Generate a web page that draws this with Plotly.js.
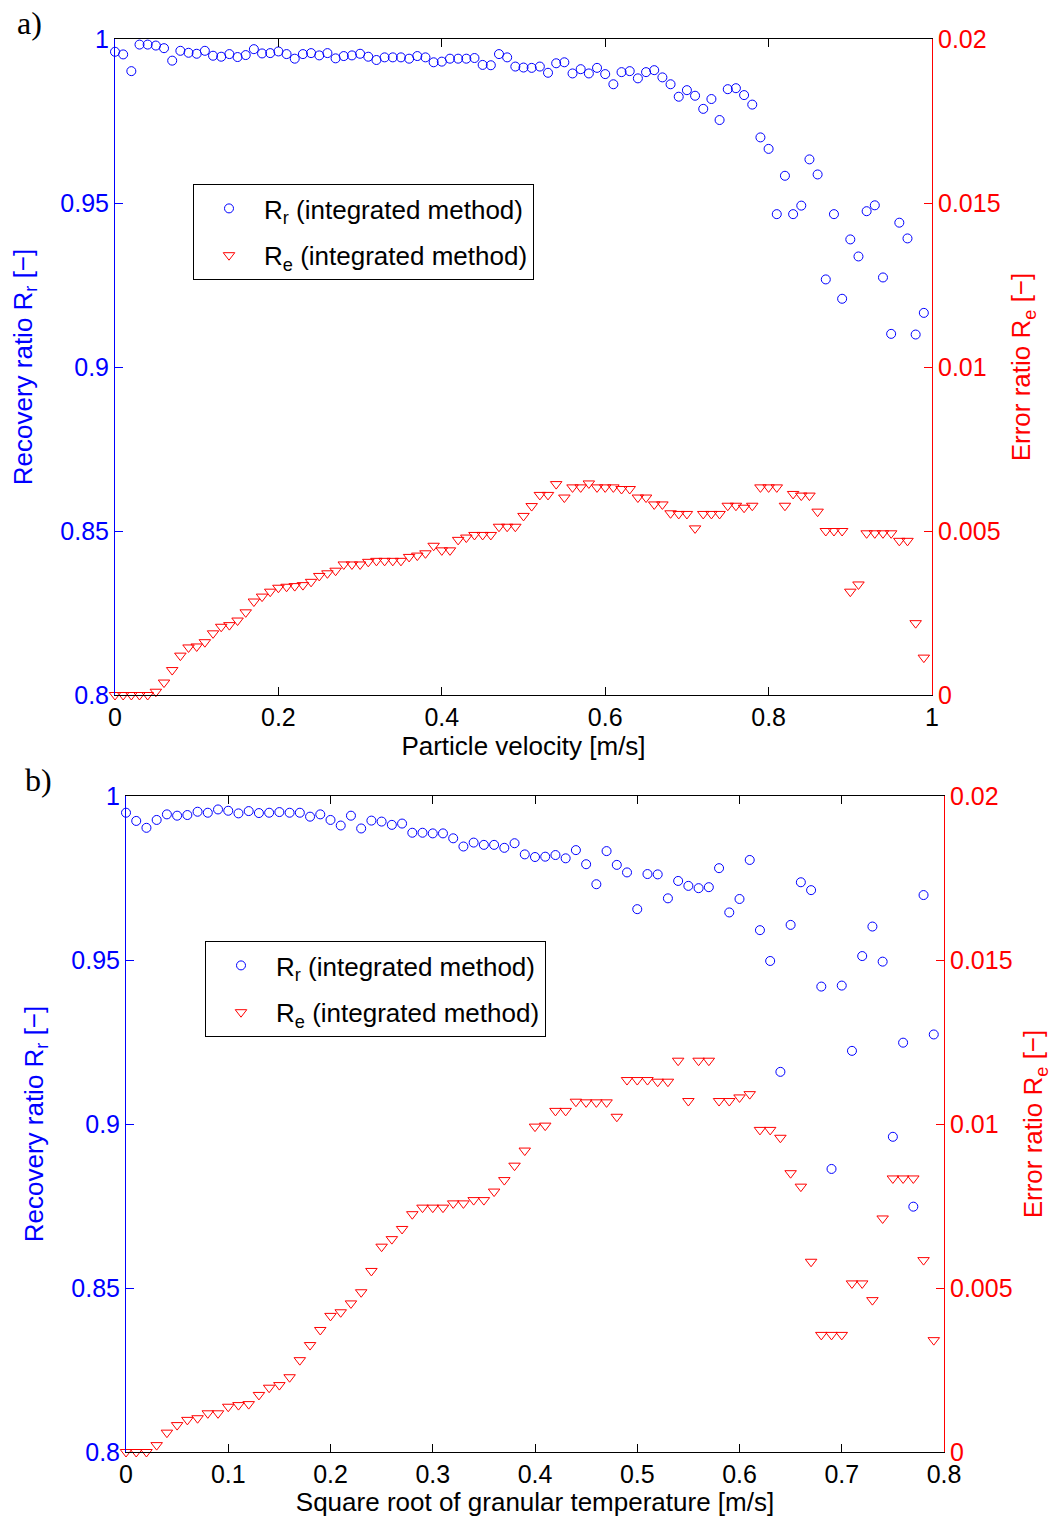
<!DOCTYPE html>
<html><head><meta charset="utf-8">
<script src="https://cdn.plot.ly/plotly-3.0.1.min.js"></script>
<style>html,body{margin:0;padding:0;background:#fff}#chart{width:1058px;height:1517px}</style>
</head><body><div id="chart"></div>
<script>
// ---- panel a) ----
const velocity = [0.00,0.01,0.02,0.03,0.04,0.05,0.06,0.07,0.08,0.09,0.10,0.11,0.12,0.13,0.14,0.15,0.16,0.17,0.18,0.19,
0.20,0.21,0.22,0.23,0.24,0.25,0.26,0.27,0.28,0.29,0.30,0.31,0.32,0.33,0.34,0.35,0.36,0.37,0.38,0.39,
0.40,0.41,0.42,0.43,0.44,0.45,0.46,0.47,0.48,0.49,0.50,0.51,0.52,0.53,0.54,0.55,0.56,0.57,0.58,0.59,
0.60,0.61,0.62,0.63,0.64,0.65,0.66,0.67,0.68,0.69,0.70,0.71,0.72,0.73,0.74,0.75,0.76,0.77,0.78,0.79,
0.80,0.81,0.82,0.83,0.84,0.85,0.86,0.87,0.88,0.89,0.90,0.91,0.92,0.93,0.94,0.95,0.96,0.97,0.98,0.99];
const recoveryA = [0.9961,0.9953,0.9902,0.9983,0.9983,0.9980,0.9972,0.9934,0.9964,0.9958,
0.9955,0.9964,0.9949,0.9946,0.9954,0.9945,0.9951,0.9969,0.9956,0.9957,
0.9962,0.9954,0.9940,0.9954,0.9957,0.9950,0.9957,0.9941,0.9948,0.9950,
0.9955,0.9946,0.9936,0.9944,0.9944,0.9944,0.9940,0.9948,0.9944,0.9929,
0.9931,0.9940,0.9940,0.9940,0.9942,0.9921,0.9920,0.9954,0.9944,0.9916,
0.9913,0.9912,0.9916,0.9897,0.9926,0.9929,0.9895,0.9908,0.9895,0.9912,
0.9893,0.9862,0.9899,0.9902,0.9880,0.9899,0.9905,0.9883,0.9862,0.9824,
0.9844,0.9827,0.9787,0.9817,0.9753,0.9847,0.9850,0.9829,0.9800,0.9700,
0.9665,0.9466,0.9583,0.9466,0.9492,0.9633,0.9587,0.9267,0.9466,0.9208,
0.9389,0.9337,0.9475,0.9493,0.9273,0.9101,0.9440,0.9392,0.9099,0.9165];
const errorA = [0,0,0,0,0,0.0001,0.00038,0.00076,0.0012,0.00145,
0.00148,0.00161,0.00188,0.00208,0.00213,0.00227,0.00252,0.00285,0.003,0.00315,
0.00327,0.0033,0.00332,0.00335,0.00345,0.00363,0.00371,0.00379,0.00398,0.00398,
0.00398,0.00406,0.00409,0.00409,0.00409,0.00409,0.00421,0.00425,0.00432,0.00455,
0.00441,0.00441,0.00473,0.0048,0.00488,0.00488,0.00488,0.00513,0.00513,0.00513,
0.00546,0.00576,0.0061,0.0061,0.00643,0.00602,0.00633,0.00633,0.00645,0.00633,
0.00633,0.00633,0.00628,0.00628,0.00602,0.00602,0.00581,0.00581,0.00554,0.00552,
0.00552,0.00508,0.00552,0.00552,0.00552,0.00577,0.00577,0.00571,0.00577,0.00633,
0.00633,0.00633,0.00577,0.00613,0.00608,0.00608,0.00559,0.005,0.005,0.005,
0.00315,0.00337,0.00493,0.00493,0.00493,0.00493,0.0047,0.0047,0.00219,0.00114];

// ---- panel b) ----
const granTemp = [0.00,0.01,0.02,0.03,0.04,0.05,0.06,0.07,0.08,0.09,0.10,0.11,0.12,0.13,0.14,0.15,0.16,0.17,0.18,0.19,
0.20,0.21,0.22,0.23,0.24,0.25,0.26,0.27,0.28,0.29,0.30,0.31,0.32,0.33,0.34,0.35,0.36,0.37,0.38,0.39,
0.40,0.41,0.42,0.43,0.44,0.45,0.46,0.47,0.48,0.49,0.50,0.51,0.52,0.53,0.54,0.55,0.56,0.57,0.58,0.59,
0.60,0.61,0.62,0.63,0.64,0.65,0.66,0.67,0.68,0.69,0.70,0.71,0.72,0.73,0.74,0.75,0.76,0.77,0.78,0.79];
const recoveryB = [0.9949,0.9924,0.9903,0.9927,0.9944,0.9940,0.9942,0.9952,0.9949,0.9959,
0.9955,0.9947,0.9954,0.9948,0.9949,0.9951,0.9949,0.9949,0.9937,0.9944,
0.9927,0.9910,0.9940,0.9901,0.9925,0.9922,0.9912,0.9916,0.9888,0.9888,
0.9886,0.9886,0.9871,0.9846,0.9858,0.9851,0.9851,0.9842,0.9856,0.9822,
0.9814,0.9815,0.9820,0.9810,0.9835,0.9792,0.9731,0.9832,0.9790,0.9767,
0.9655,0.9762,0.9761,0.9688,0.9741,0.9726,0.9719,0.9722,0.9780,0.9645,
0.9686,0.9805,0.9591,0.9497,0.9159,0.9607,0.9737,0.9713,0.9419,0.8863,
0.9422,0.9223,0.9512,0.9602,0.9495,0.8961,0.9248,0.8748,0.9698,0.9273];
const errorB = [0,0,0,0.00021,0.00059,0.00082,0.00098,0.00103,0.00118,0.00118,
0.00138,0.00143,0.00146,0.00174,0.00196,0.00204,0.00228,0.0028,0.00326,0.00372,
0.00415,0.00426,0.00453,0.00487,0.00552,0.00626,0.00649,0.0068,0.00725,0.00745,
0.00745,0.00745,0.00758,0.00758,0.00768,0.00768,0.00794,0.00829,0.00873,0.00919,
0.00992,0.00995,0.0104,0.0104,0.01068,0.01066,0.01066,0.01066,0.01022,0.01134,
0.01134,0.01134,0.01129,0.01129,0.01193,0.0107,0.01193,0.01193,0.0107,0.0107,
0.01081,0.01091,0.00982,0.00982,0.00958,0.0085,0.00809,0.0058,0.00357,0.00357,
0.00357,0.00514,0.00514,0.00463,0.00712,0.00834,0.00834,0.00834,0.00585,0.00341];

const legendLabels = ['R<sub>r</sub> (integrated method)', 'R<sub>e</sub> (integrated method)'];
const xTitles = ['Particle velocity [m/s]', 'Square root of granular temperature [m/s]'];
const yLeftTitle = 'Recovery ratio R<sub>r</sub> [\u2212]';
const yRightTitle = 'Error ratio R<sub>e</sub> [\u2212]';
const panelLabels = ['a)', 'b)'];

const BLUE = '#0000ff', RED = '#ff0000';
const FONT = 'Liberation Sans, Arial, sans-serif';
const FS = 25;
const FT = 26;

const circ = {symbol:'circle-open', size:9, color:BLUE, line:{color:BLUE, width:1}};
const tri = {symbol:'triangle-down-open', size:10, color:RED, line:{color:RED, width:1}};

const traces = [
  {x:velocity, y:recoveryA, type:'scatter', mode:'markers', marker:circ, name:legendLabels[0], xaxis:'x', yaxis:'y', cliponaxis:false, legend:'legend', legendgroup:'a1'},
  {x:velocity, y:errorA, type:'scatter', mode:'markers', marker:tri, name:legendLabels[1], xaxis:'x', yaxis:'y2', cliponaxis:false, legend:'legend', legendgroup:'a2'},
  {x:granTemp, y:recoveryB, type:'scatter', mode:'markers', marker:circ, name:legendLabels[0], xaxis:'x2', yaxis:'y3', cliponaxis:false, legend:'legend2', legendgroup:'b1'},
  {x:granTemp, y:errorB, type:'scatter', mode:'markers', marker:tri, name:legendLabels[1], xaxis:'x2', yaxis:'y4', cliponaxis:false, legend:'legend2', legendgroup:'b2'}
];

function xAx(dom, anchor, range, dtick, title) {
  return {domain:dom, anchor:anchor, range:range, dtick:dtick, tick0:0, ticks:'inside', ticklen:8, tickcolor:'#000',
    showline:true, linecolor:'#000', linewidth:1, mirror:'ticks', showgrid:false, zeroline:false,
    tickfont:{family:FONT, size:FS, color:'#000'},
    title:{text:title, font:{family:FONT, size:FT, color:'#000'}, standoff:4}};
}
function yLeft(dom, anchor) {
  return {domain:dom, anchor:anchor, range:[0.8,1], dtick:0.05, tick0:0.8, ticks:'inside', ticklen:8, tickcolor:BLUE,
    showline:true, linecolor:BLUE, linewidth:1, showgrid:false, zeroline:false,
    tickfont:{family:FONT, size:FS, color:BLUE},
    title:{text:yLeftTitle, font:{family:FONT, size:FT, color:BLUE}, standoff:20}};
}
function yRight(over, anchor) {
  return {overlaying:over, side:'right', anchor:anchor, range:[0,0.02], dtick:0.005, tick0:0, ticks:'inside', ticklen:8, tickcolor:RED,
    showline:true, linecolor:RED, linewidth:1, showgrid:false, zeroline:false,
    tickfont:{family:FONT, size:FS, color:RED},
    title:{text:yRightTitle, font:{family:FONT, size:FT, color:RED}, standoff:12}};
}

const legBase = {xanchor:'left', yanchor:'top', bgcolor:'#fff', bordercolor:'#000', borderwidth:1,
  itemwidth:60, tracegroupgap:10, font:{family:FONT, size:FT, color:'#000'}};

const layout = {
  width:1058, height:1517, margin:{l:0, r:0, t:0, b:0},
  paper_bgcolor:'#fff', plot_bgcolor:'#fff', showlegend:true,
  font:{family:FONT, size:FS},
  xaxis: xAx([115/1058, 932/1058], 'y', [0,1], 0.2, xTitles[0]),
  yaxis: yLeft([1-695/1517, 1-39/1517], 'x'),
  yaxis2: yRight('y', 'x'),
  xaxis2: xAx([126/1058, 944/1058], 'y3', [0,0.8], 0.1, xTitles[1]),
  yaxis3: yLeft([1-1452/1517, 1-796/1517], 'x2'),
  yaxis4: yRight('y3', 'x2'),
  legend: Object.assign({x:193/1058, y:1-184/1517}, legBase),
  legend2: Object.assign({x:205/1058, y:1-941/1517}, legBase),
  annotations: [
    {text:panelLabels[0], xref:'paper', yref:'paper', x:29/1058, y:1-23/1517, xanchor:'center', yanchor:'middle', showarrow:false,
     font:{family:'Liberation Serif, Times New Roman, serif', size:32, color:'#000'}},
    {text:panelLabels[1], xref:'paper', yref:'paper', x:38/1058, y:1-780/1517, xanchor:'center', yanchor:'middle', showarrow:false,
     font:{family:'Liberation Serif, Times New Roman, serif', size:32, color:'#000'}}
  ]
};

Plotly.newPlot('chart', traces, layout, {displayModeBar:false, staticPlot:true});
</script>
</body></html>
